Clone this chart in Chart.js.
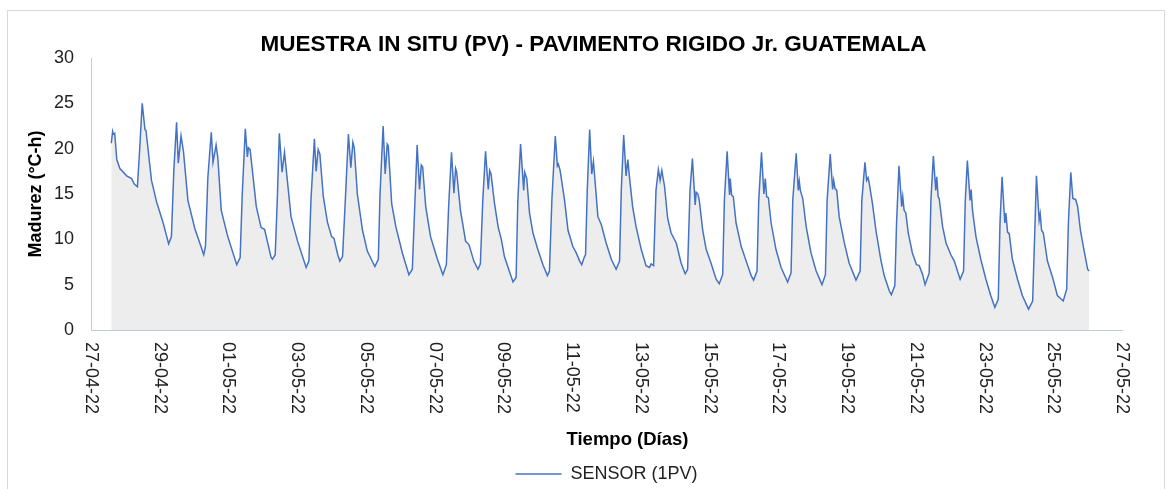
<!DOCTYPE html>
<html lang="es">
  <head>
    <meta charset="UTF-8" />
    <meta name="viewport" content="width=device-width, initial-scale=1.0" />
    <script src="https://cdn.jsdelivr.net/npm/chart.js"></script>
    <style>
      body { margin: 0; overflow: hidden; background: #fff; }
      .marco {
        position: absolute; left: 7px; top: 10px; width: 1158px; height: 520px;
        border: 1px solid #d9d9d9; box-sizing: border-box;
      }
      #graficoMadurez { position: absolute; left: 0; top: 0; }
    </style>
  </head>
  <body>
    <div class="marco"></div>
    <canvas id="graficoMadurez" width="1176" height="500"></canvas>

    <script>
      const tiempoDias = [
        0.59, 0.63, 0.65, 0.69, 0.75, 0.84, 1.04, 1.18, 1.26, 1.35, 1.41,
        1.49, 1.57, 1.60, 1.76, 1.91, 2.10, 2.26, 2.34, 2.41,
        2.49, 2.54, 2.62, 2.69, 2.82, 3.02, 3.21, 3.28, 3.33, 3.40,
        3.50, 3.55, 3.64, 3.69, 3.79, 3.98, 4.24, 4.34, 4.40,
        4.49, 4.55, 4.58, 4.63, 4.81, 4.95, 5.05, 5.24, 5.28, 5.36, 5.42,
        5.48, 5.56, 5.63, 5.82, 6.01, 6.26, 6.34, 6.40,
        6.50, 6.55, 6.61, 6.66, 6.76, 6.88, 7.00, 7.07, 7.18, 7.24, 7.32, 7.40,
        7.49, 7.56, 7.62, 7.66, 7.75, 7.90, 8.04, 8.26, 8.36, 8.41,
        8.50, 8.56, 8.62, 8.65, 8.75, 8.87, 9.06, 9.25, 9.35, 9.42,
        9.49, 9.56, 9.61, 9.65, 9.74, 9.88, 10.08, 10.24, 10.34, 10.41,
        10.49, 10.56, 10.61, 10.64, 10.75, 10.90, 11.00, 11.14, 11.26, 11.33, 11.40,
        11.48, 11.56, 11.60, 11.64, 11.74, 11.85, 11.94, 12.03, 12.18, 12.28, 12.37, 12.42,
        12.50, 12.59, 12.62, 12.68, 12.76, 12.86, 13.00, 13.15, 13.28, 13.34, 13.41,
        13.51, 13.57, 13.60, 13.65, 13.78, 13.88, 14.02, 14.12, 14.22, 14.28, 14.36, 14.39, 14.44,
        14.51, 14.57, 14.62, 14.65, 14.75, 14.85, 14.99, 15.14, 15.28, 15.38, 15.43,
        15.50, 15.57, 15.62, 15.67, 15.76, 15.86, 16.01, 16.15, 16.25, 16.30, 16.37, 16.44,
        16.51, 16.56, 16.61, 16.69, 16.78, 16.88, 17.03, 17.17, 17.29, 17.36, 17.43,
        17.50, 17.58, 17.61, 17.66, 17.70, 17.80, 17.90, 18.04, 18.19, 18.28, 18.38, 18.43,
        18.51, 18.58, 18.60, 18.64, 18.69, 18.77, 18.92, 19.11, 19.21, 19.28, 19.38, 19.43,
        19.51, 19.58, 19.62, 19.66, 19.71, 19.79, 19.93, 20.08, 20.27, 20.37, 20.42,
        20.52, 20.58, 20.61, 20.64, 20.71, 20.81, 20.95, 21.10, 21.27, 21.37, 21.42,
        21.51, 21.58, 21.61, 21.65, 21.70, 21.77, 21.92, 22.06, 22.26, 22.38, 22.43,
        22.52, 22.57, 22.61, 22.64, 22.74, 22.84, 22.98, 23.08, 23.23, 23.29, 23.39, 23.44,
        23.51, 23.59, 23.62, 23.66, 23.71, 23.78, 23.90, 24.02, 24.10, 24.20, 24.27, 24.39, 24.44,
        24.51, 24.58, 24.61, 24.65, 24.68, 24.78, 24.88, 25.02, 25.12, 25.29, 25.39, 25.44,
        25.50, 25.58, 25.61, 25.65, 25.75, 25.89, 26.04, 26.18, 26.30, 26.40, 26.45,
        26.51, 26.59, 26.62, 26.67, 26.72, 26.81, 26.96, 27.10, 27.28, 27.40, 27.47,
        27.51, 27.59, 27.62, 27.66, 27.71, 27.83, 27.98, 28.12, 28.29, 28.39, 28.44,
        28.51, 28.57, 28.65, 28.71, 28.79, 28.89, 29.00, 29.04,
      ];

      const madurez = [
        20.6, 21.9, 21.6, 21.7, 18.8, 17.8, 17.0, 16.7, 16.1, 15.8, 19.5,
        25.0, 22.1, 22.0, 16.5, 14.1, 11.8, 9.5, 10.3, 17.6,
        22.9, 18.4, 21.4, 19.7, 14.3, 11.2, 9.1, 8.3, 9.2, 16.8,
        21.8, 18.5, 20.4, 19.0, 13.2, 10.3, 7.2, 8.0, 14.9,
        22.2, 19.1, 20.1, 19.9, 13.6, 11.3, 11.1, 8.0, 7.8, 8.3, 14.3,
        21.7, 17.4, 19.6, 12.5, 9.8, 6.9, 7.6, 14.3,
        21.1, 17.5, 19.9, 19.4, 14.7, 11.9, 10.3, 10.1, 8.3, 7.6, 8.1, 14.3,
        21.6, 17.9, 20.7, 20.1, 15.0, 11.0, 8.7, 7.0, 7.8, 15.0,
        22.5, 17.2, 20.5, 20.3, 13.9, 11.4, 8.5, 6.1, 6.7, 13.6,
        20.4, 15.5, 18.2, 18.0, 13.6, 10.3, 7.8, 6.1, 7.2, 13.9,
        19.6, 15.1, 17.8, 17.4, 13.2, 9.8, 9.4, 7.6, 6.7, 7.3, 14.3,
        19.7, 15.5, 17.6, 17.2, 14.0, 11.3, 10.0, 8.1, 6.4, 5.3, 5.8, 14.3,
        20.5, 15.4, 17.4, 16.7, 12.9, 10.7, 8.9, 7.2, 6.0, 6.5, 14.3,
        21.4, 18.1, 18.3, 17.6, 14.3, 11.0, 9.2, 8.5, 7.6, 7.2, 8.1, 8.3, 15.4,
        22.1, 17.2, 18.6, 17.2, 12.5, 11.6, 9.6, 7.8, 6.7, 7.6, 15.4,
        21.5, 17.0, 18.8, 16.8, 13.6, 11.4, 8.9, 7.1, 6.9, 7.3, 7.1, 15.4,
        17.7, 16.5, 17.6, 15.8, 12.3, 10.7, 9.6, 7.4, 6.2, 6.7, 15.4,
        18.9, 13.8, 15.2, 15.0, 14.3, 11.0, 8.9, 7.4, 5.6, 5.1, 6.1, 14.3,
        19.7, 14.9, 16.7, 14.9, 14.7, 11.8, 9.2, 7.1, 6.0, 5.5, 6.5, 14.3,
        19.6, 15.0, 16.7, 14.7, 14.6, 11.8, 8.9, 6.9, 5.3, 6.3, 14.3,
        19.5, 15.4, 16.4, 15.4, 14.5, 11.4, 8.5, 6.5, 5.0, 6.1, 14.3,
        19.4, 15.5, 16.5, 15.6, 15.4, 12.5, 9.6, 7.4, 5.5, 6.5, 14.3,
        18.5, 16.5, 16.8, 16.3, 13.9, 11.0, 7.8, 6.0, 4.3, 3.9, 4.9, 11.8,
        18.1, 13.6, 14.7, 13.2, 12.9, 10.7, 8.5, 7.2, 7.1, 6.1, 5.0, 6.3, 14.3,
        19.2, 15.4, 16.9, 14.7, 14.5, 11.4, 9.6, 8.3, 7.6, 5.6, 6.5, 14.3,
        18.7, 14.3, 15.5, 13.2, 10.3, 7.8, 5.6, 3.8, 2.5, 3.4, 11.8,
        16.9, 11.8, 12.9, 10.8, 10.6, 7.8, 5.6, 3.8, 2.3, 3.2, 11.8,
        17.0, 12.1, 12.8, 11.0, 10.7, 7.6, 5.8, 3.8, 3.2, 4.5, 11.8,
        17.4, 14.5, 14.4, 13.6, 11.0, 8.9, 6.7, 6.5,
      ];

      // Etiquetas del eje X (cada 2 dias)
      const etiquetasFecha = [
        "27-04-22", "29-04-22", "01-05-22", "03-05-22", "05-05-22", "07-05-22",
        "09-05-22", "11-05-22", "13-05-22", "15-05-22", "17-05-22", "19-05-22",
        "21-05-22", "23-05-22", "25-05-22", "27-05-22",
      ];

      if (tiempoDias.length !== madurez.length) {
        console.warn("largos distintos", tiempoDias.length, madurez.length);
      }

      const fuente = '"Liberation Sans", Arial, sans-serif';
      const colorEje = "#c3cbd9";
      Chart.defaults.font.family = fuente;
      Chart.defaults.color = "#222";

      // Etiquetas de fecha giradas (se leen de arriba hacia abajo, como en Excel)
      // y titulo del eje X, que en el original esta algo corrido a la derecha
      const textosEjeX = {
        id: "textosEjeX",
        afterDraw(chart) {
          const ejeX = chart.scales.x;
          const ctx = chart.ctx;
          ctx.save();
          ctx.font = "18px " + fuente;
          ctx.fillStyle = "#222";
          ctx.textAlign = "left";
          ctx.textBaseline = "middle";
          ejeX.ticks.forEach((tick, i) => {
            const x = ejeX.getPixelForValue(tick.value);
            ctx.save();
            ctx.translate(x, ejeX.top + 12);
            ctx.rotate(Math.PI / 2);
            ctx.fillText(etiquetasFecha[i], 0, 0);
            ctx.restore();
          });

          ctx.font = "bold 18.5px " + fuente;
          ctx.fillStyle = "#000";
          ctx.textAlign = "center";
          ctx.fillText("Tiempo (Días)", (ejeX.left + ejeX.right) / 2 + 21, ejeX.bottom - 15);
          ctx.restore();
        },
      };

      const ctx = document.getElementById("graficoMadurez").getContext("2d");
      const graficoMadurez = new Chart(ctx, {
        type: "line",
        data: {
          datasets: [
            {
              label: "SENSOR (1PV)",
              data: tiempoDias.map((t, i) => ({ x: t, y: madurez[i] })),
              borderColor: "#4472c4",
              backgroundColor: "#ededed",
              borderWidth: 1.5,
              fill: "origin",
              pointRadius: 0,
              tension: 0,
            },
          ],
        },
        options: {
          responsive: false,
          animation: false,
          layout: { padding: { left: 11, right: 0, top: 0, bottom: 7 } },
          plugins: {
            title: {
              display: true,
              text: "MUESTRA IN SITU (PV) - PAVIMENTO RIGIDO Jr. GUATEMALA",
              color: "#000",
              font: { size: 22.5, weight: "bold" },
              padding: { top: 31, bottom: 0 },
            },
            legend: {
              position: "bottom",
              fullSize: false,
              labels: {
                usePointStyle: true,
                pointStyle: "line",
                pointStyleWidth: 46,
                color: "#222",
                font: { size: 18 },
                padding: 10,
              },
            },
            tooltip: { enabled: false },
          },
          scales: {
            x: {
              type: "linear",
              min: 0,
              max: 30,
              grid: { display: false, drawTicks: false },
              border: { display: true, color: colorEje, width: 1 },
              ticks: { display: false, stepSize: 2 },
              afterFit(scale) {
                scale.height = 125;
              },
            },
            y: {
              min: 0,
              max: 30,
              grid: { display: false, drawTicks: false },
              border: { display: true, color: colorEje, width: 1 },
              ticks: { stepSize: 5, padding: 17, color: "#222", font: { size: 18 } },
              title: {
                display: true,
                text: "Madurez (°C-h)",
                color: "#000",
                font: { size: 18, weight: "bold" },
                padding: { top: 14, bottom: 0 },
              },
              afterFit(scale) {
                scale.width = 80;
              },
            },
            margenDerecho: {
              type: "linear",
              position: "right",
              grid: { display: false, drawTicks: false },
              border: { display: false },
              ticks: { display: false },
              afterFit(scale) {
                scale.width = 54;
              },
            },
          },
        },
        plugins: [textosEjeX],
      });
    </script>
  </body>
</html>
